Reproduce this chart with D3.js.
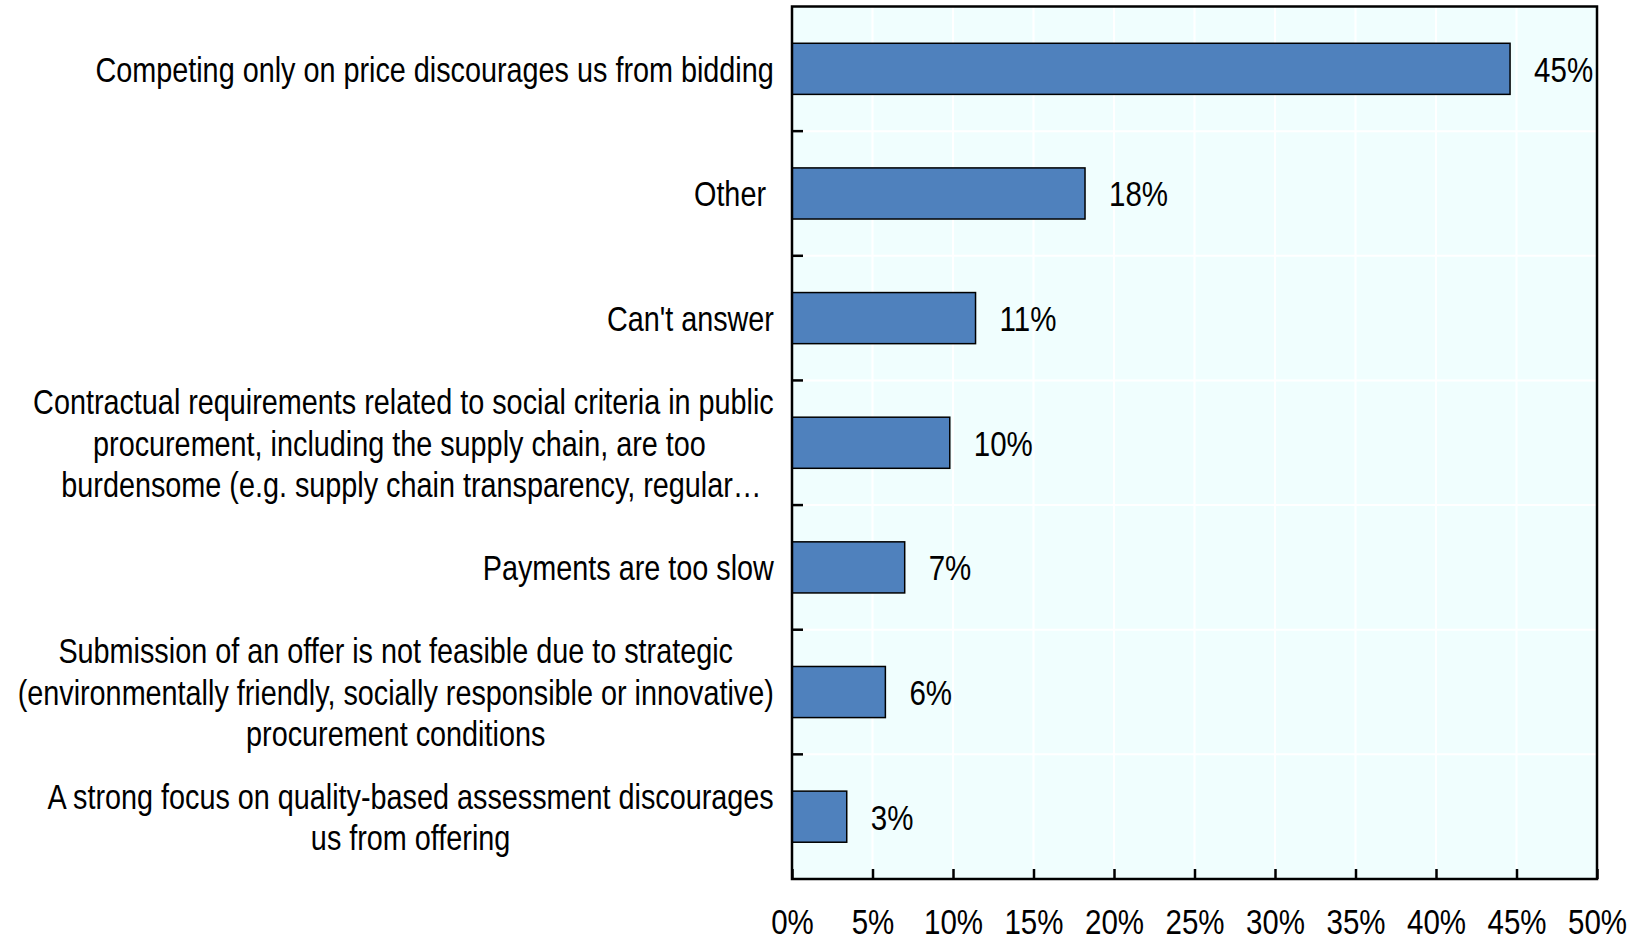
<!DOCTYPE html>
<html>
<head>
<meta charset="utf-8">
<script src="https://cdn.jsdelivr.net/npm/d3@7"></script>
<style>
  html, body { margin: 0; padding: 0; background: #ffffff; }
  svg { display: block; }
  text { font-family: 'Liberation Sans Narrow', 'Arial Narrow', 'Liberation Sans', Arial, sans-serif; fill: #000; }
</style>
</head>
<body>
<svg id="chart" width="1630" height="939"></svg>
<script>
// Survey responses: reasons for not bidding (share of respondents)
const categories = [
  "Competing only on price discourages us from bidding",
  "Other ",
  "Can't answer",
  "Contractual requirements related to social criteria in public\nprocurement, including the supply chain, are too \n  burdensome (e.g. supply chain transparency, regular…",
  "Payments are too slow",
  "Submission of an offer is not feasible due to strategic\n(environmentally friendly, socially responsible or innovative)\nprocurement conditions",
  "A strong focus on quality-based assessment discourages\nus from offering"
];
const shares = [0.446, 0.182, 0.114, 0.098, 0.070, 0.058, 0.034];
const xTicks = [0, 0.05, 0.10, 0.15, 0.20, 0.25, 0.30, 0.35, 0.40, 0.45, 0.50];

const W = 1630, H = 939;
const margin = { top: 6.5, right: 33, bottom: 60, left: 792 };
const innerW = W - margin.left - margin.right;
const innerH = H - margin.top - margin.bottom;

// the sans face is condensed horizontally to a narrow look
const FONT = 36;
const NARROW_LABEL = 0.8;
const NARROW_NUM = 0.82;

const svg = d3.select("#chart");
const g = svg.append("g").attr("transform", `translate(${margin.left},${margin.top})`);

const x = d3.scaleLinear().domain([0, 0.5]).range([0, innerW]);
const y = d3.scaleBand().domain(categories).range([0, innerH]).paddingInner(0.59).paddingOuter(0.295);
const yBand = d3.scaleBand().domain(categories).range([0, innerH]).padding(0);

// plot background
g.append("rect").attr("width", innerW).attr("height", innerH).attr("fill", "#F0FEFE");

// white gridlines
g.append("g").selectAll("line").data(xTicks.slice(1, -1)).join("line")
  .attr("x1", d => x(d)).attr("x2", d => x(d)).attr("y1", 0).attr("y2", innerH)
  .attr("stroke", "#ffffff").attr("stroke-width", 2);
g.append("g").selectAll("line").data(categories.slice(1)).join("line")
  .attr("x1", 0).attr("x2", innerW).attr("y1", d => yBand(d)).attr("y2", d => yBand(d))
  .attr("stroke", "#ffffff").attr("stroke-width", 2);

// bars
g.append("g").selectAll("rect").data(categories).join("rect")
  .attr("x", 0)
  .attr("y", d => y(d))
  .attr("width", (d, i) => x(shares[i]))
  .attr("height", y.bandwidth())
  .attr("fill", "#4F81BD")
  .attr("stroke", "#000")
  .attr("stroke-width", 1.5);

// value labels
const pct = d3.format(".0%");
g.append("g").selectAll("text").data(categories).join("text")
  .attr("transform", (d, i) => `translate(${x(shares[i]) + 24},${y(d) + y.bandwidth() / 2}) scale(${NARROW_NUM},1)`)
  .attr("dy", "0.36em")
  .attr("font-size", FONT)
  .text((d, i) => pct(shares[i]));

// frame
g.append("rect").attr("width", innerW).attr("height", innerH)
  .attr("fill", "none").attr("stroke", "#000").attr("stroke-width", 2.5);

// x axis: inward ticks, labels below
const xAxis = d3.axisBottom(x).tickValues(xTicks).tickFormat(d3.format(".0%"))
  .tickSizeInner(-10).tickSizeOuter(0).tickPadding(42);
const xg = g.append("g").attr("transform", `translate(0,${innerH})`).call(xAxis);
xg.select(".domain").remove();
xg.selectAll(".tick line").attr("stroke", "#000").attr("stroke-width", 2.5);
xg.selectAll(".tick text")
  .attr("font-size", FONT).attr("font-family", null)
  .attr("dy", "0.36em")
  .attr("transform", function () { return `translate(0,${this.getAttribute("y")}) scale(${NARROW_NUM},1)`; })
  .attr("y", 0);

// y axis ticks on band boundaries (inward)
g.append("g").selectAll("line").data(categories.slice(1)).join("line")
  .attr("x1", 0).attr("x2", 11).attr("y1", d => yBand(d)).attr("y2", d => yBand(d))
  .attr("stroke", "#000").attr("stroke-width", 2.5);

// category labels: lines centred on each other, block right-aligned near the axis
const labelRight = -18;
const lineH = 41.5;
const labels = g.append("g").selectAll("g").data(categories).join("g");
labels.each(function (d) {
  const lines = d.split("\n");
  const grp = d3.select(this);
  const cy = yBand(d) + yBand.bandwidth() / 2;
  const inner = grp.append("g");
  const t = inner.append("text")
    .attr("font-size", FONT)
    .attr("text-anchor", "middle")
    .style("white-space", "pre");
  lines.forEach((ln, k) => {
    t.append("tspan")
      .attr("x", 0)
      .attr("y", cy + (k - (lines.length - 1) / 2) * lineH)
      .attr("dy", "0.36em")
      .text(ln);
  });
  let maxW = 0;
  t.selectAll("tspan").each(function () { maxW = Math.max(maxW, this.getComputedTextLength()); });
  inner.attr("transform", `scale(${NARROW_LABEL},1)`);
  grp.attr("transform", `translate(${labelRight - (maxW * NARROW_LABEL) / 2},0)`);
});
</script>
</body>
</html>
